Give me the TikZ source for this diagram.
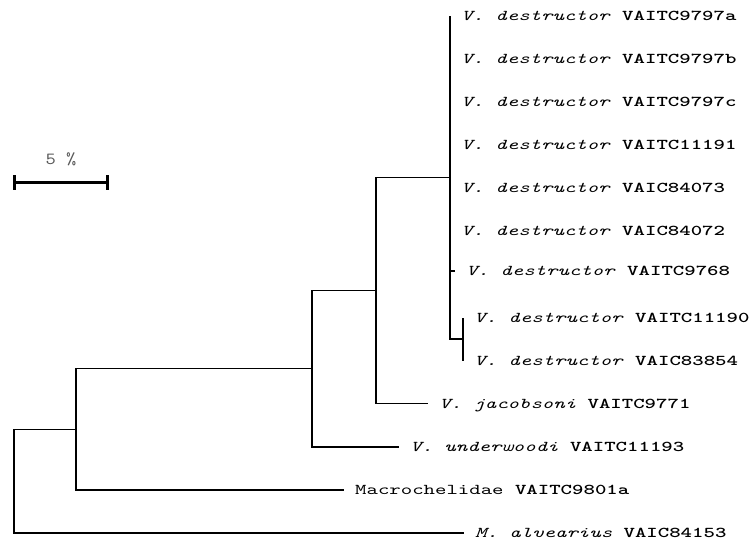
\documentclass[tikz,border=0pt]{standalone}
\usepackage{fontspec}
\newfontfamily\treefont{lmmono10-regular.otf}[FakeStretch=1.45, ItalicFont=lmmono10-italic.otf, BoldFont=lmmonolt10-bold.otf]
\newfontfamily\scalefont{lmmono10-regular.otf}[FakeStretch=1.15]
\tikzset{
  branch/.style={line width=1.4pt},
  leaflabel/.style={anchor=base west, inner sep=0pt, xshift=11pt, yshift=-4.5pt,
    font=\treefont\fontsize{15}{15}\selectfont},
  scalebar/.style={line width=3pt},
  scaletext/.style={anchor=base, inner sep=0pt, text=black!65,
    font=\scalefont\fontsize{17}{17}\selectfont},
}
\begin{document}
\begin{tikzpicture}[x=1pt,y=-1pt]
\useasboundingbox (0,0) rectangle (749,543);
% tips
\coordinate (t0) at (450,16);
\coordinate (t1) at (450,59.08);
\coordinate (t2) at (450,102.16);
\coordinate (t3) at (450,145.24);
\coordinate (t4) at (450,188.32);
\coordinate (t5) at (450,231.4);
\coordinate (t6) at (455,271);
\coordinate (t7) at (463,317.56);
\coordinate (t8) at (463,360.64);
\coordinate (t9) at (428,403.72);
\coordinate (t10) at (399,446.8);
\coordinate (t11) at (344,489.88);
\coordinate (t12) at (464,532.96);
% internal nodes
\coordinate (nsub) at (463,339.1);
\coordinate (ndes) at (450,177.55);
\coordinate (njac) at (376,290.6);
\coordinate (nund) at (312,368.7);
\coordinate (nmac) at (76,429.3);
\coordinate (root) at (14,481.1);
% branches
\draw[branch] (nsub) |- (t7);
\draw[branch] (nsub) |- (t8);
\draw[branch] (ndes) |- (t0);
\draw[branch] (ndes) |- (t1);
\draw[branch] (ndes) |- (t2);
\draw[branch] (ndes) |- (t3);
\draw[branch] (ndes) |- (t4);
\draw[branch] (ndes) |- (t5);
\draw[branch] (ndes) |- (t6);
\draw[branch] (ndes) |- (nsub);
\draw[branch] (njac) |- (ndes);
\draw[branch] (njac) |- (t9);
\draw[branch] (nund) |- (njac);
\draw[branch] (nund) |- (t10);
\draw[branch] (nmac) |- (nund);
\draw[branch] (nmac) |- (t11);
\draw[branch] (root) |- (nmac);
\draw[branch] (root) |- (t12);
% labels
\node[leaflabel] (l0) at (t0) {\textit{V. destructor} \textbf{VAITC9797a}};
\node[leaflabel] (l1) at (t1) {\textit{V. destructor} \textbf{VAITC9797b}};
\node[leaflabel] (l2) at (t2) {\textit{V. destructor} \textbf{VAITC9797c}};
\node[leaflabel] (l3) at (t3) {\textit{V. destructor} \textbf{VAITC11191}};
\node[leaflabel] (l4) at (t4) {\textit{V. destructor} \textbf{VAIC84073}};
\node[leaflabel] (l5) at (t5) {\textit{V. destructor} \textbf{VAIC84072}};
\node[leaflabel] (l6) at (t6) {\textit{V. destructor} \textbf{VAITC9768}};
\node[leaflabel] (l7) at (t7) {\textit{V. destructor} \textbf{VAITC11190}};
\node[leaflabel] (l8) at (t8) {\textit{V. destructor} \textbf{VAIC83854}};
\node[leaflabel] (l9) at (t9) {\textit{V. jacobsoni} \textbf{VAITC9771}};
\node[leaflabel] (l10) at (t10) {\textit{V. underwoodi} \textbf{VAITC11193}};
\node[leaflabel] (l11) at (t11) {Macrochelidae \textbf{VAITC9801a}};
\node[leaflabel] (l12) at (t12) {\textit{M. alvearius} \textbf{VAIC84153}};
% scale bar
\coordinate (sbl) at (14,182);
\coordinate (sbr) at (107,182);
\coordinate (sblt) at (14,175);
\coordinate (sblb) at (14,190);
\coordinate (sbrt) at (107,175);
\coordinate (sbrb) at (107,190);
\draw[scalebar] (sbl) -- (sbr);
\draw[scalebar] (sblt) -- (sblb);
\draw[scalebar] (sbrt) -- (sbrb);
\node[scaletext] (sbtext) at (61,164) {5 \%};
\end{tikzpicture}
\end{document}
